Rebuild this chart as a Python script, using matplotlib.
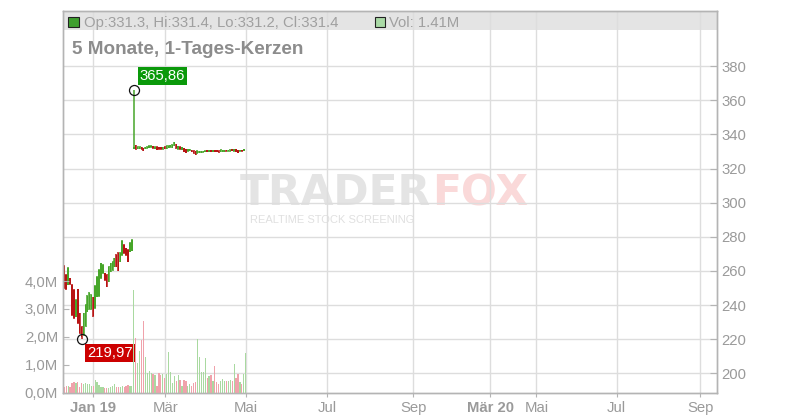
import matplotlib
matplotlib.use("Agg")
import matplotlib.pyplot as plt
import numpy as np

plt.rcParams['font.family'] = ['Liberation Sans', 'DejaVu Sans']

# ---------------- data (daily candles, trading-day index) ----------------
opens = [262.9, 257.6, 251.8, 255.7, 251.8, 248.8, 233.2, 249.2, 235.2, 227.3,
         222.4, 227.7, 236.1, 237.5, 237.5, 244.5, 238.1, 244.9, 245.3, 255.7,
         258.6, 258.6, 257.6, 253.7, 259.6, 260.6, 262.5, 269.4, 270.4, 265.5,
         269.4, 275.2, 273.3, 272.3, 271.3, 271.9,
         331.6,
         333.9, 331.5, 331.7, 332.5, 331.9, 331.7, 331.9, 332.3, 332.5, 333.3,
         331.7, 332.9, 332.5, 332.5, 331.3, 332.9, 331.7, 332.1, 332.5, 332.3,
         333.3, 334.4, 331.3, 332.9, 330.9, 331.9, 331.3, 330.2, 330.5, 330.9,
         330.5, 330.2, 329.0, 329.3, 329.3, 329.6, 329.7, 330.9, 329.9, 330.9,
         329.9, 330.9, 330.9, 330.5, 329.9, 329.9, 329.9, 330.9, 330.2, 330.2,
         331.5, 330.2, 331.5, 330.9, 330.2, 330.9, 330.5, 331.3]
closes = [249.8, 249.2, 261.6, 252.2, 234.2, 232.2, 243.0, 229.3, 223.4, 221.5,
          235.2, 240.0, 245.3, 247.3, 245.9, 233.6, 251.2, 256.6, 260.6, 264.5,
          263.5, 254.7, 250.8, 262.5, 264.5, 265.5, 267.4, 262.5, 260.2, 270.4,
          277.8, 270.4, 269.4, 265.5, 276.6, 278.2,
          332.6,
          331.3, 332.9, 332.9, 331.3, 330.5, 332.7, 332.9, 333.5, 333.5, 331.9,
          332.9, 330.9, 331.3, 331.3, 332.5, 331.5, 333.5, 333.5, 333.9, 334.0,
          335.6, 331.9, 333.3, 331.3, 332.5, 329.9, 329.3, 331.3, 331.5, 329.8,
          329.0, 328.0, 330.5, 330.3, 330.2, 330.3, 330.5, 329.9, 330.9, 329.8,
          330.9, 329.8, 329.8, 329.6, 331.1, 330.9, 330.9, 330.2, 330.9, 331.1,
          330.3, 331.3, 329.9, 329.3, 330.9, 330.2, 331.5, 331.4]
highs = [263.5, 258.0, 262.0, 256.0, 252.2, 249.2, 243.4, 249.6, 235.6, 227.7,
         235.6, 240.4, 245.7, 247.7, 246.3, 244.9, 251.6, 257.0, 261.0, 264.9,
         263.9, 259.0, 258.0, 262.9, 264.9, 265.9, 267.8, 269.8, 270.8, 270.8,
         278.2, 275.6, 273.7, 272.7, 277.0, 278.6,
         365.86,
         334.1, 333.1, 333.1, 332.7, 332.1, 332.9, 333.1, 333.7, 333.7, 333.5,
         333.1, 333.1, 332.7, 332.7, 332.7, 333.1, 333.7, 333.7, 334.1, 334.2,
         335.8, 334.6, 333.5, 333.1, 332.7, 332.1, 331.5, 331.5, 331.7, 331.1,
         330.7, 330.4, 330.7, 330.5, 330.4, 330.5, 330.7, 331.1, 331.1, 331.1,
         331.1, 331.1, 331.1, 330.7, 331.3, 331.1, 331.1, 331.1, 331.1, 331.3,
         331.7, 331.5, 331.7, 331.1, 331.1, 331.1, 331.7, 331.4]
lows = [249.5, 248.8, 251.5, 251.9, 233.8, 231.8, 232.8, 228.9, 223.0, 219.97,
        222.0, 227.3, 235.7, 237.1, 237.1, 233.2, 237.7, 244.5, 244.9, 255.3,
        258.2, 254.3, 250.4, 253.3, 259.2, 260.2, 262.1, 262.1, 259.8, 265.1,
        269.0, 270.0, 269.0, 265.1, 270.9, 271.5,
        331.4,
        331.1, 331.3, 331.5, 331.1, 330.3, 331.5, 331.7, 332.1, 332.3, 331.7,
        331.5, 330.7, 331.1, 331.1, 331.1, 331.3, 331.5, 331.9, 332.3, 332.1,
        333.1, 331.7, 331.1, 331.1, 330.7, 329.7, 329.1, 330.0, 330.3, 329.6,
        328.8, 327.8, 328.8, 329.1, 329.1, 329.4, 329.5, 329.7, 329.7, 329.6,
        329.7, 329.6, 329.6, 329.4, 329.7, 329.7, 329.7, 330.0, 330.0, 330.0,
        330.1, 330.0, 329.7, 329.1, 330.0, 330.0, 330.3, 331.2]
volumes = [0.21, 0.24, 0.24, 0.18, 0.33, 0.37, 0.33, 0.37, 0.21, 0.33,
           0.29, 0.33, 0.29, 0.30, 0.24, 0.24, 0.45, 0.39, 0.27, 0.21,
           0.21, 0.17, 0.15, 0.17, 0.21, 0.23, 0.30, 0.21, 0.21, 0.18,
           0.24, 0.21, 0.24, 0.27, 0.25, 0.23,
           3.69,
           1.95, 1.07, 1.49, 1.89, 2.55, 1.26, 0.69, 0.78, 0.69, 0.66,
           0.64, 0.25, 0.69, 0.63, 0.66, 0.51, 0.66, 1.47, 0.75, 0.35,
           0.59, 0.41, 0.63, 0.45, 0.25, 0.45, 0.41, 0.25, 0.30, 0.25,
           0.35, 0.38, 1.91, 1.29, 0.75, 0.72, 1.25, 0.51, 0.59, 0.63,
           0.41, 0.95, 0.39, 0.30, 0.41, 0.47, 0.42, 0.41, 0.41, 0.45,
           0.41, 1.02, 0.53, 0.66, 0.36, 0.32, 0.66, 1.41]

x_tick_pos = [15.0, 52.3, 93.9, 136.0, 180.8, 220.7, 244.6, 286.2, 329.5]
x_tick_labels = ["Jan 19", "Mär", "Mai", "Jul", "Sep", "Mär 20", "Mai", "Jul", "Sep"]
bold_labels = ["Jan 19", "Mär 20"]
price_ticks = [200, 220, 240, 260, 280, 300, 320, 340, 360, 380]
vol_ticks = [0, 1, 2, 3, 4]
vol_tick_labels = ["0,0M", "1,0M", "2,0M", "3,0M", "4,0M"]

high_label = "365,86"
low_label = "219,97"
header_ohlc = "Op:331.3, Hi:331.4, Lo:331.2, Cl:331.4"
header_vol = "Vol: 1.41M"
subtitle = "5 Monate, 1-Tages-Kerzen"

# ---------------- styling ----------------
GREEN = '#47a62a'
RED = '#b81414'
VGREEN = '#a9d9a0'
VRED = '#f0a2ab'
GRID = '#dddddd'
SPINE = '#b4b4b4'
TXT = '#9a9a9a'

o = np.array(opens); c = np.array(closes)
h = np.array(highs); l = np.array(lows)
v = np.array(volumes)
x = np.arange(len(o))
up = c >= o

W, H = 800, 420
fig = plt.figure(figsize=(8, 4.2), dpi=100)
fig.patch.set_facecolor('white')
ax = fig.add_axes([63 / W, 27.5 / H, (716.7 - 63) / W, (409 - 27.5) / H])
axv = ax.twinx()

ax.set_xlim(-0.67, 338)
ax.set_ylim(188.7, 412.4)
axv.set_ylim(0, 13.70)

# header band
ax.axhspan(401.3, 412.4, color='#e4e4e4', zorder=0.3, lw=0)

# grid
ax.set_axisbelow(True)
ax.grid(True, color=GRID, lw=1)

# watermark
renderer = fig.canvas.get_renderer()
wm1 = ax.text(240 / W, 1 - 205 / H, "TRADER", transform=fig.transFigure, fontsize=30.5,
              fontweight='bold', family='DejaVu Sans', color='#e4e4e4', ha='left',
              va='baseline', zorder=0.4)
bb = wm1.get_window_extent(renderer)
ax.text(bb.x1 / W + 1 / W, 1 - 205 / H, "FOX", transform=fig.transFigure, fontsize=30.5,
        fontweight='bold', family='DejaVu Sans', color='#fad9d9', ha='left',
        va='baseline', zorder=0.4)
ax.text(250 / W, 1 - 223 / H, "REALTIME STOCK SCREENING", transform=fig.transFigure,
        fontsize=8.0, color='#e0e0e0', ha='left', va='baseline', zorder=0.4)

# candles
cols = np.where(up, GREEN, RED)
ax.vlines(x, l, h, colors=cols, lw=1.1, zorder=2)
ax.bar(x, np.abs(c - o), bottom=np.minimum(o, c), width=0.75, color=cols,
       lw=0, zorder=2)

# volume
vcols = np.where(up, VGREEN, VRED)
axv.bar(x, v, width=0.65, color=vcols, lw=0, zorder=1)

# high / low markers
ih = int(np.argmax(h)); il = int(np.argmin(l))
ax.plot([x[ih]], [h[ih]], 'o', ms=7.2, mfc='none', mec='#111111', mew=0.9, zorder=5)
ax.plot([x[il]], [l[il]], 'o', ms=7.2, mfc='none', mec='#111111', mew=0.9, zorder=5)
ax.annotate(high_label, (x[ih], h[ih]), xytext=(28.7, 14.3), textcoords='offset pixels',
            ha='center', va='center', fontsize=10.7, color='white', zorder=6,
            bbox=dict(boxstyle='square,pad=0.15', fc='#0a990a', ec='none'))
ax.annotate(low_label, (x[il], l[il]), xytext=(28.3, -14.0), textcoords='offset pixels',
            ha='center', va='center', fontsize=10.7, color='white', zorder=6,
            bbox=dict(boxstyle='square,pad=0.15', fc='#cc0000', ec='none'))

# axes / ticks
ax.yaxis.tick_right()
ax.yaxis.set_label_position('right')
axv.yaxis.tick_left()
axv.yaxis.set_label_position('left')

ax.set_yticks(price_ticks)
ax.set_yticklabels([str(t) for t in price_ticks])
ax.tick_params(axis='y', direction='in', length=5, color=SPINE, labelcolor=TXT,
               labelsize=10.7, pad=3.5, right=True, left=False, labelright=True,
               labelleft=False)
axv.set_yticks(vol_ticks)
axv.set_yticklabels(vol_tick_labels)
axv.tick_params(axis='y', direction='in', length=4, color=SPINE, labelcolor=TXT,
                labelsize=10.7, pad=3.5, left=True, right=False, labelleft=True,
                labelright=False)

ax.set_xticks(x_tick_pos)
ax.set_xticklabels(x_tick_labels)
ax.tick_params(axis='x', direction='out', length=3, color=SPINE, labelcolor=TXT,
               labelsize=10.7, pad=3)
for t in ax.get_xticklabels():
    if t.get_text() in bold_labels:
        t.set_fontweight('bold')

for a in (ax, axv):
    for s in a.spines.values():
        s.set_color(SPINE)
        s.set_linewidth(1)

# header texts
fig.patches.append(plt.Rectangle((68.3 / W, 1 - 26.7 / H), 10.2 / W, 9.4 / H,
                                 transform=fig.transFigure, fc='#3f9f2f', ec='#222222',
                                 lw=0.8, zorder=10))
fig.patches.append(plt.Rectangle((375 / W, 1 - 26.7 / H), 10.2 / W, 9.4 / H,
                                 transform=fig.transFigure, fc='#aadaa6', ec='#222222',
                                 lw=0.8, zorder=10))
fig.text(83.5 / W, 1 - 26.6 / H, header_ohlc, fontsize=10.75, color='#a0a0a0',
         ha='left', va='baseline', zorder=11)
fig.text(389 / W, 1 - 26.6 / H, header_vol, fontsize=10.75, color='#a0a0a0',
         ha='left', va='baseline', zorder=11)
fig.text(72 / W, 1 - 54 / H, subtitle, fontsize=13.6, fontweight='bold',
         color='#8c8c8c', ha='left', va='baseline', zorder=11)

fig.savefig('out.png', dpi=100, facecolor='white')
